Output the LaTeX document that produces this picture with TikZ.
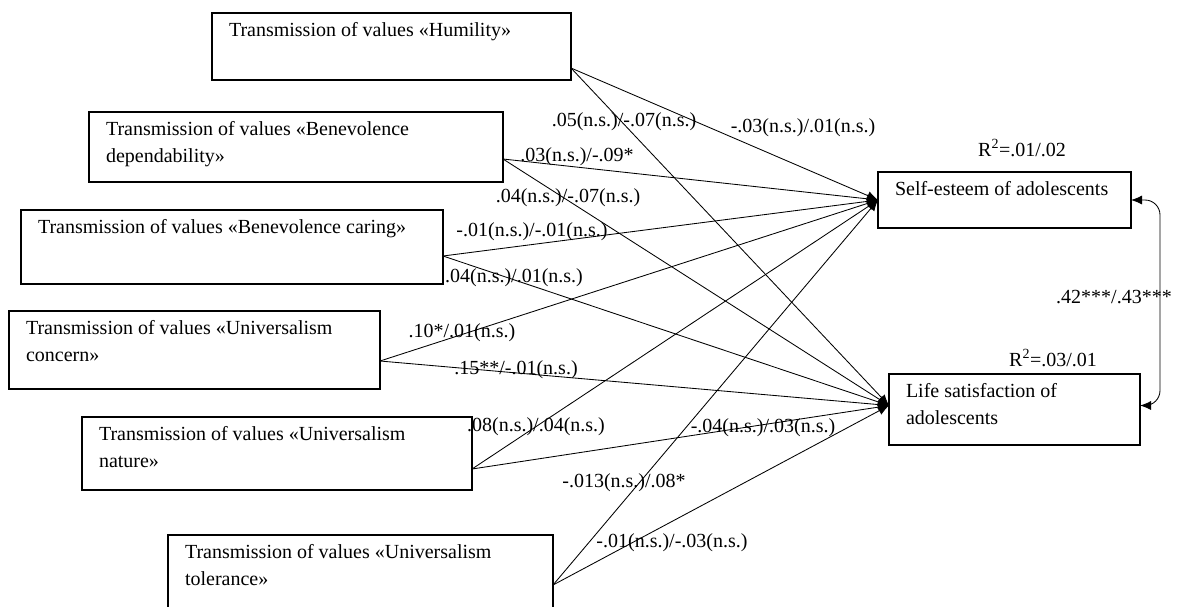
\documentclass[tikz,border=0pt]{standalone}
\usepackage{fontspec}
\setmainfont{Liberation Serif}
\usetikzlibrary{arrows.meta,calc}
\newcommand{\bxt}[3]{\parbox[t][#2][t]{#1}{\strut#3}}
\begin{document}
\begin{tikzpicture}[x=1pt,y=-1pt,
  every node/.style={font=\fontsize{20}{27}\selectfont},
  vbox/.style={draw, line width=1.1pt, anchor=north west, inner xsep=17pt, inner ysep=5pt, outer sep=0pt},
  lbl/.style={inner sep=1pt},
  conn/.style={line width=0.85pt, -{Latex[length=11pt,width=9pt]}},
  dbl/.style={line width=0.85pt, {Latex[length=11pt,width=9pt]}-{Latex[length=11pt,width=9pt]}, rounded corners=15pt}]
\useasboundingbox (0,0) rectangle (1178,606);

% source boxes
\node[vbox] (hum) at (212,13) {\bxt{325pt}{57pt}{\mbox{Transmission of values «Humility»}}};
\node[vbox] (dep) at (89,112) {\bxt{380pt}{60pt}{\mbox{Transmission of values «Benevolence}\\\mbox{dependability»}}};
\node[vbox] (car) at (21,210) {\bxt{388pt}{64pt}{\mbox{Transmission of values «Benevolence caring»}}};
\node[vbox] (con) at (9,311) {\bxt{337pt}{68pt}{\mbox{Transmission of values «Universalism}\\\mbox{concern»}}};
\node[vbox] (nat) at (82,417) {\bxt{356pt}{63pt}{\mbox{Transmission of values «Universalism}\\\mbox{nature»}}};
\node[vbox] (tol) at (168,535) {\bxt{351pt}{67pt}{\mbox{Transmission of values «Universalism}\\\mbox{tolerance»}}};

% target boxes
\node[vbox] (se) at (878,172) {\bxt{219pt}{46pt}{\mbox{Self-esteem of adolescents}}};
\node[vbox] (ls) at (889,374) {\bxt{217pt}{61pt}{\mbox{Life satisfaction of}\\\mbox{adolescents}}};

% connector end points
\coordinate (hum-o) at ($(hum.south east)+(0,-12)$);
\coordinate (dep-o) at ($(dep.south east)+(0,-23)$);
\coordinate (car-o) at ($(car.south east)+(0,-28)$);
\coordinate (con-o) at ($(con.south east)+(0,-28)$);
\coordinate (nat-o) at ($(nat.south east)+(0,-21)$);
\coordinate (tol-o) at ($(tol.south east)+(0,-27)$);
\coordinate (se-i) at (se.west);
\coordinate (ls-i) at ($(ls.west)+(0,-4)$);
\coordinate (ls-r) at ($(ls.east)+(0,-4)$);

\foreach \s in {hum,dep,car,con,nat,tol}{
  \draw[conn] (\s-o) -- (se-i);
  \draw[conn] (\s-o) -- (ls-i);
}

\draw[dbl] (se.east) -- ++(29,0) -- ($(ls-r)+(20,0)$) -- (ls-r);

% path labels
\node[lbl] (l1) at (624,122) {.05(n.s.)/-.07(n.s.)};
\node[lbl] (l2) at (803,128) {-.03(n.s.)/.01(n.s.)};
\node[lbl] (l3) at (577,157) {.03(n.s.)/-.09*};
\node[lbl] (l4) at (568,198) {.04(n.s.)/-.07(n.s.)};
\node[lbl] (l5) at (532,232) {-.01(n.s.)/-.01(n.s.)};
\node[lbl] (l6) at (514,278) {.04(n.s.)/.01(n.s.)};
\node[lbl] (l7) at (462,333) {.10*/.01(n.s.)};
\node[lbl] (l8) at (516,370) {.15**/-.01(n.s.)};
\node[lbl] (l9) at (536,427) {.08(n.s.)/.04(n.s.)};
\node[lbl] (l10) at (763,428) {-.04(n.s.)/.03(n.s.)};
\node[lbl] (l11) at (624,483) {-.013(n.s.)/.08*};
\node[lbl] (l12) at (672,543) {-.01(n.s.)/-.03(n.s.)};

% R squared and correlation
\node[lbl] (r1) at (1022,148) {R\textsuperscript{2}=.01/.02};
\node[lbl] (r2) at (1053,358) {R\textsuperscript{2}=.03/.01};
\node[lbl] (cor) at (1114,297) {.42***/.43***};
\end{tikzpicture}
\end{document}
